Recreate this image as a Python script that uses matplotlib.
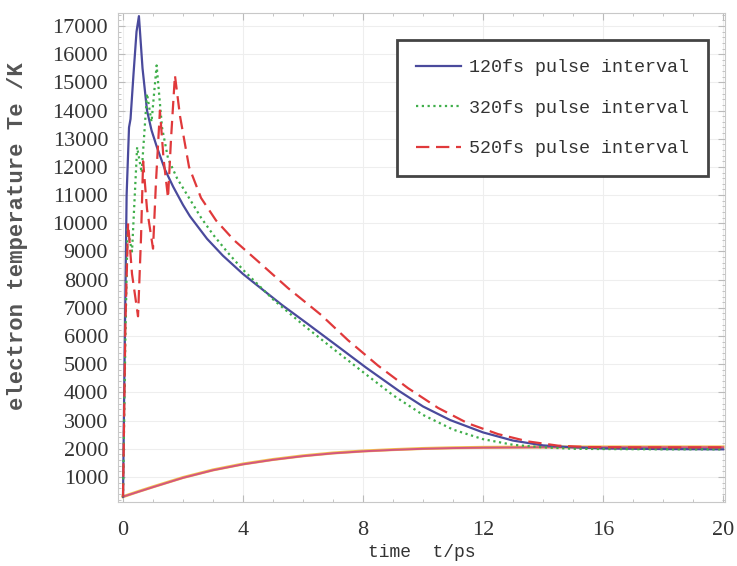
import matplotlib.pyplot as plt

# electron temperature, 120 fs pulse interval
t_120 = [0, 0.05, 0.12, 0.2, 0.25, 0.35, 0.45, 0.53, 0.65, 0.8, 0.95, 1.13, 1.4, 1.67,
         2.0, 2.23, 2.8, 3.33, 4.0, 4.47, 5.3, 6.13, 7.2, 8.1, 9.2, 10.0, 10.9, 12.0,
         13.0, 14.0, 15.0, 16.0, 18.0, 20.0]
te_120 = [300, 5000, 11000, 13400, 13700, 15300, 16800, 17350, 15500, 14000, 13300, 12700,
          11900, 11300, 10650, 10250, 9450, 8850, 8200, 7800, 7100, 6450, 5600, 4880, 4050,
          3500, 3020, 2580, 2290, 2120, 2050, 2010, 1990, 1980]

# electron temperature, 320 fs pulse interval
t_320 = [0, 0.08, 0.15, 0.3, 0.47, 0.62, 0.8, 0.95, 1.12, 1.3, 1.5, 1.8, 2.2, 2.6, 3.0,
         3.5, 4.0, 5.0, 6.0, 7.0, 8.0, 9.0, 10.0, 11.0, 12.0, 13.0, 14.0, 15.0, 16.0,
         18.0, 20.0]
te_320 = [300, 6000, 9800, 9000, 12700, 11800, 14600, 13600, 15600, 13400, 12300, 11600,
          10900, 10200, 9600, 8950, 8350, 7300, 6400, 5550, 4720, 3900, 3200, 2680, 2340,
          2140, 2050, 2000, 1990, 1980, 1980]

# electron temperature, 520 fs pulse interval
t_520 = [0, 0.08, 0.17, 0.3, 0.5, 0.6, 0.67, 0.8, 1.0, 1.1, 1.23, 1.35, 1.5, 1.6, 1.73,
         1.9, 2.2, 2.6, 3.1, 3.7, 4.5, 5.5, 6.6, 7.5, 8.5, 9.5, 10.5, 11.5, 12.5, 13.5,
         14.5, 15.5, 17.0, 20.0]
te_520 = [300, 6500, 10000, 8200, 6700, 9500, 12200, 10500, 9100, 11500, 14000, 12300,
          10900, 13000, 15250, 13800, 12000, 10900, 10100, 9400, 8650, 7700, 6750, 5850,
          4950, 4150, 3450, 2900, 2520, 2260, 2110, 2060, 2050, 2050]

# lattice temperatures (the three cases nearly coincide)
t_lat = [0, 0.5, 1, 2, 3, 4, 5, 6, 7, 8, 9, 10, 11, 12, 14, 16, 18, 20]
tl_a = [300, 480, 650, 980, 1250, 1460, 1620, 1750, 1850, 1920, 1970, 2010, 2035, 2050,
        2062, 2065, 2065, 2065]
tl_b = [300, 470, 640, 970, 1240, 1450, 1610, 1740, 1840, 1910, 1960, 2000, 2025, 2040,
        2052, 2055, 2055, 2055]

x_ticks = [0, 4, 8, 12, 16, 20]
y_ticks = list(range(1000, 18000, 1000))

fig = plt.figure(figsize=(7.37, 5.66), dpi=100)
ax = fig.add_axes([0.160, 0.113, 0.824, 0.864])

ax.plot(t_lat, tl_a, color='#f2c14e', lw=2.2)
ax.plot(t_lat, tl_b, color='#d4567e', lw=1.4)
ax.plot(t_120, te_120, color='#4a4a9c', lw=1.6, label='120fs pulse interval')
ax.plot(t_320, te_320, color='#3fae4a', lw=1.6, ls=(0, (1, 1.6)), label='320fs pulse interval')
ax.plot(t_520, te_520, color='#e0393b', lw=1.6, ls=(0, (6, 3)), label='520fs pulse interval')

ax.set_xlim(-0.17, 20.07)
ax.set_ylim(110, 17460)
ax.set_xticks(x_ticks)
ax.set_yticks(y_ticks)
ax.grid(True, color='#eeeeee', lw=0.8)
ax.minorticks_on()
ax.tick_params(which='both', direction='in', top=True, right=True, color='#bbbbbb')
ax.tick_params(which='major', length=5)
ax.tick_params(which='minor', length=2.5)
for s in ax.spines.values():
    s.set_color('#c8c8c8')

for lab in ax.get_xticklabels() + ax.get_yticklabels():
    lab.set_fontfamily('Liberation Serif')
    lab.set_fontsize(16)
    lab.set_color('#333333')
ax.tick_params(axis='x', pad=14)
ax.tick_params(axis='y', pad=7)

ax.set_xlabel('time  t/ps', fontfamily='Liberation Mono', fontsize=13, color='#333333')
ax.xaxis.set_label_coords(0.5, -0.085)
ax.set_ylabel('electron temperature Te /K', fontfamily='Liberation Mono', fontsize=16,
              fontweight='bold', color='#555555')
ax.yaxis.set_label_coords(-0.148, 0.544)

leg = ax.legend(loc='upper right', bbox_to_anchor=(0.972, 0.945), borderaxespad=0,
                prop={'family': 'Liberation Mono', 'size': 13.2},
                fancybox=False, framealpha=1, edgecolor='#444444',
                handlelength=2.45, handletextpad=0.45,
                labelspacing=1.28, borderpad=1.05)
leg.get_frame().set_linewidth(2)
for txt in leg.get_texts():
    txt.set_color('#333333')

plt.savefig('out.png', dpi=100)
